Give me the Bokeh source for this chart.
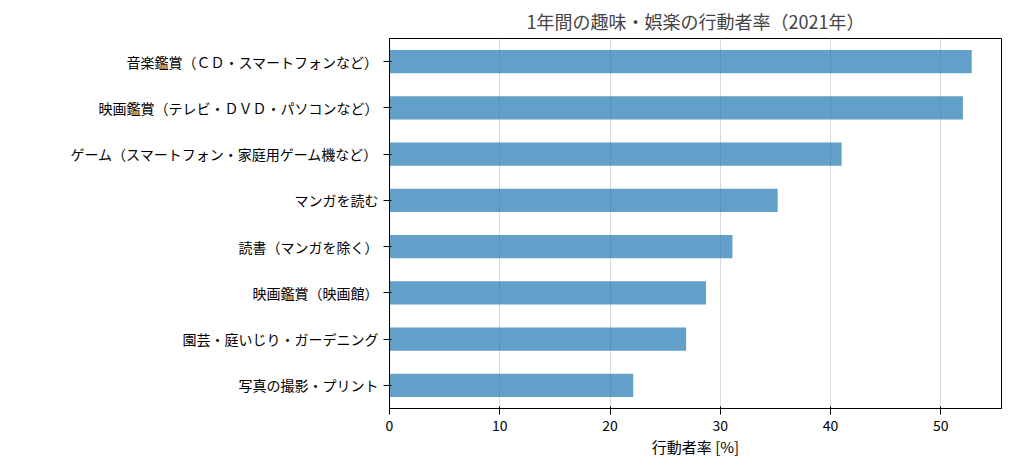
from bokeh.plotting import figure
from bokeh.models import Range1d, FactorRange
from bokeh.embed import file_html
from bokeh.resources import INLINE

categories = ["音楽鑑賞（ＣＤ・スマートフォンなど）", "映画鑑賞（テレビ・ＤＶＤ・パソコンなど）",
              "ゲーム（スマートフォン・家庭用ゲーム機など）", "マンガを読む", "読書（マンガを除く）",
              "映画鑑賞（映画館）", "園芸・庭いじり・ガーデニング", "写真の撮影・プリント"]
values = [52.8, 52.0, 41.0, 35.2, 31.1, 28.7, 26.9, 22.1]

F = "Noto Sans CJK JP"
p = figure(width=1003, height=459, output_backend="svg", toolbar_location=None,
           y_range=FactorRange(factors=categories[::-1]), x_range=Range1d(0, 55.5),
           min_border_left=389, min_border_right=2, min_border_top=38, min_border_bottom=49,
           title="1年間の趣味・娯楽の行動者率（2021年）")
p.hbar(y=categories, right=values, left=0, height=0.5, color="#1f77b4", fill_alpha=0.7, line_alpha=0)
p.title.align = "center"
p.title.text_font = F
p.title.text_font_size = "18px"
p.title.text_font_style = "normal"
p.xaxis.axis_label = "行動者率 [%]"
p.xaxis.axis_label_text_font = F
p.xaxis.axis_label_text_font_size = "15px"
p.xaxis.axis_label_text_font_style = "normal"
p.xaxis.axis_label_text_color = "black"
p.xaxis.axis_label_standoff = 2
for ax in (p.xaxis, p.yaxis):
    ax.major_label_text_font = F
    ax.major_label_text_font_size = "14px"
    ax.major_label_text_color = "black"
    ax.axis_line_color = "black"
    ax.major_tick_line_color = "black"
    ax.minor_tick_line_color = None
p.xaxis.ticker = [0, 10, 20, 30, 40, 50]
p.ygrid.grid_line_color = None
p.xgrid.grid_line_color = "#d9d9d9"
p.outline_line_color = "black"
p.outline_line_alpha = 1
open("out.html", "w").write(file_html(p, INLINE))
